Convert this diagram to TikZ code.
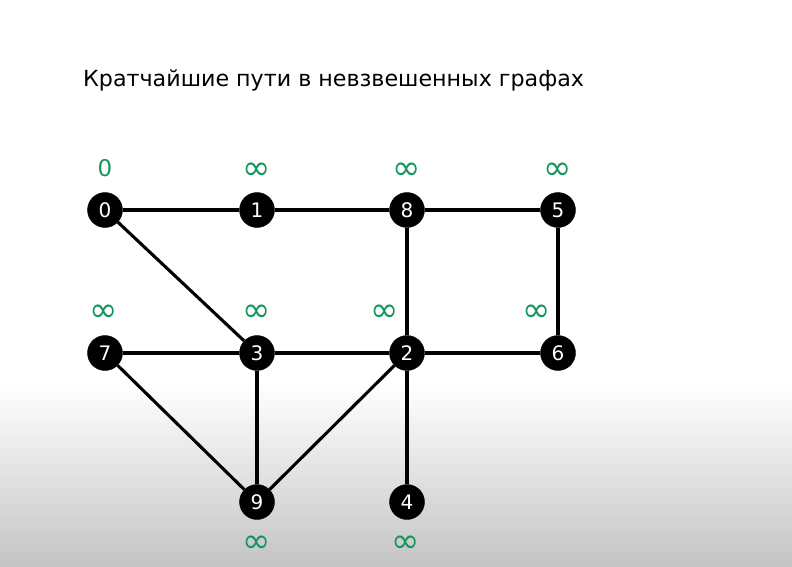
\documentclass[tikz,border=0pt]{standalone}
\usepackage{fontspec}
\setmainfont{DejaVu Sans}
\definecolor{infgreen}{RGB}{22,150,95}
\definecolor{bottomgray}{RGB}{196,196,196}
\begin{document}
\begin{tikzpicture}[x=1pt,y=-1pt,
  vert/.style={circle,fill=black,draw=black,minimum size=35pt,inner sep=0pt,text=white,font=\fontsize{20}{22}\selectfont},
  dist/.style={text=infgreen,font=\fontsize{23}{26}\selectfont,inner sep=0pt},
  infty/.style={text=infgreen,font=\fontsize{34}{36}\selectfont,inner sep=0pt},
  edge/.style={line width=3.1pt,black}]
\useasboundingbox (0,0) rectangle (792,567);
\fill[white] (0,0) rectangle (792,385);
\shade[top color=white,bottom color=bottomgray] (0,384) rectangle (792,567);
\node[anchor=west,inner sep=0pt,font=\fontsize{22.2}{26}\selectfont] (title) at (83,80) {Кратчайшие пути в невзвешенных графах};
% vertices
\node[vert] (n0) at (105,210) {0};
\node[vert] (n1) at (257,210) {1};
\node[vert] (n8) at (407,210) {8};
\node[vert] (n5) at (558,210) {5};
\node[vert] (n7) at (105,353) {7};
\node[vert] (n3) at (257,353) {3};
\node[vert] (n2) at (407,353) {2};
\node[vert] (n6) at (558,353) {6};
\node[vert] (n9) at (257,502) {9};
\node[vert] (n4) at (407,502) {4};
% edges
\draw[edge] (n0) -- (n1);
\draw[edge] (n1) -- (n8);
\draw[edge] (n8) -- (n5);
\draw[edge] (n0) -- (n3);
\draw[edge] (n8) -- (n2);
\draw[edge] (n5) -- (n6);
\draw[edge] (n7) -- (n3);
\draw[edge] (n3) -- (n2);
\draw[edge] (n2) -- (n6);
\draw[edge] (n7) -- (n9);
\draw[edge] (n3) -- (n9);
\draw[edge] (n2) -- (n9);
\draw[edge] (n2) -- (n4);
% distances
\node[dist] (d0) at (105,168) {0};
\node[infty] (d1) at (257,171) {∞};
\node[infty] (d8) at (407,171) {∞};
\node[infty] (d5) at (558,171) {∞};
\node[infty] (d7) at (104,313) {∞};
\node[infty] (d3) at (257,313) {∞};
\node[infty] (d2) at (385,313) {∞};
\node[infty] (d6) at (537,313) {∞};
\node[infty] (d9) at (257,544) {∞};
\node[infty] (d4) at (406,544) {∞};
\end{tikzpicture}
\end{document}
